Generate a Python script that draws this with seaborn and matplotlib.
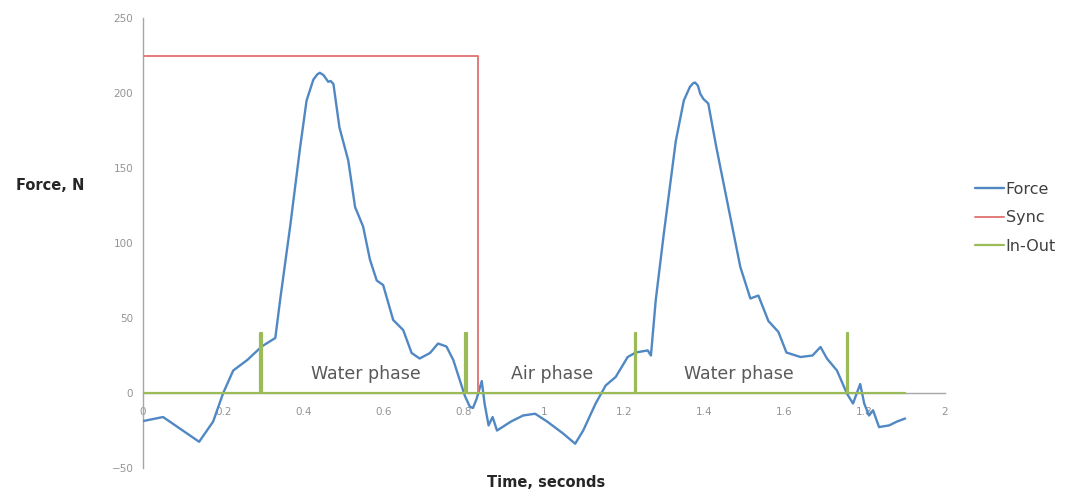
import matplotlib
matplotlib.use("Agg")
import matplotlib.pyplot as plt
import seaborn as sns
import pandas as pd

# Force signal
force_t = [0.0, 0.05, 0.11, 0.14, 0.175, 0.20, 0.225, 0.26, 0.296, 0.33, 0.342,
           0.367, 0.392, 0.408, 0.425, 0.435, 0.441, 0.450, 0.458, 0.462, 0.468,
           0.475, 0.49, 0.512, 0.529, 0.549, 0.566, 0.583, 0.599, 0.624, 0.649,
           0.67, 0.69, 0.716, 0.736, 0.757, 0.774, 0.79, 0.803, 0.815, 0.823,
           0.832, 0.845, 0.852, 0.862, 0.872, 0.883, 0.918, 0.948, 0.978, 1.008,
           1.048, 1.078, 1.098, 1.129, 1.154, 1.179, 1.209, 1.229, 1.259, 1.267,
           1.279, 1.299, 1.329, 1.349, 1.364, 1.372, 1.377, 1.384, 1.39, 1.398,
           1.41, 1.43, 1.46, 1.49, 1.515, 1.535, 1.56, 1.585, 1.605, 1.64,
           1.67, 1.69, 1.706, 1.731, 1.756, 1.771, 1.789, 1.799, 1.811, 1.821,
           1.836, 1.861, 1.881, 1.901]
force_v = [-18.7, -16, -27, -32.5, -19, 0, 15, 22, 31, 36.7, 62,
           111, 164, 195, 209, 212.5, 213.5, 212, 209, 207.5, 208,
           206, 177, 155, 124, 111, 89, 75, 72, 48.7, 42,
           26.7, 23, 26.7, 33, 31, 22, 8.7, -2, -9, -10,
           -4, 8, -7, -21.6, -16, -25, -19, -15, -13.8, -19,
           -27, -33.8, -25, -7, 5, 10.7, 24, 27, 28.4, 25,
           62, 106, 168, 195, 204, 206.5, 207, 205, 199.5, 196,
           193, 164, 124, 84, 63, 65, 48, 40.7, 27, 24,
           25, 30.7, 23, 15, -0.4, -7, 6, -7, -15, -11.5,
           -22.7, -21.6, -19, -17]

# Sync pulse
sync_t = [0.0, 0.836, 0.836, 1.90]
sync_v = [225, 225, 0, 0]

# In-Out marker spikes
inout_t = [0.0, 0.293, 0.293, 0.297, 0.297, 0.804, 0.804, 0.808, 0.808,
           1.226, 1.226, 1.230, 1.230, 1.755, 1.755, 1.759, 1.759, 1.90]
inout_v = [0, 0, 40, 40, 0, 0, 40, 40, 0,
           0, 40, 40, 0, 0, 40, 40, 0, 0]

phase_labels = ["Water phase", "Air phase", "Water phase"]
phase_x = [0.556, 1.02, 1.486]
phase_y = 12.5

x_ticks = [0, 0.2, 0.4, 0.6, 0.8, 1, 1.2, 1.4, 1.6, 1.8, 2]
x_labels = ["0", "0.2", "0.4", "0.6", "0.8", "1", "1.2", "1.4", "1.6", "1.8", "2"]
y_ticks = [-50, 0, 50, 100, 150, 200, 250]

colors = {"Force": "#5088c4", "Sync": "#e27c7a", "In-Out": "#9bbb59"}

sns.set_theme(style="white")
plt.rcParams["font.family"] = ["DejaVu Sans"]

fig = plt.figure(figsize=(10.81, 4.91), dpi=100)
ax = fig.add_axes([0.1323, 0.0468, 0.7417, 0.9165])

sns.lineplot(x=force_t, y=force_v, ax=ax, sort=False, estimator=None,
             color=colors["Force"], lw=1.7, label="Force", zorder=3)
sns.lineplot(x=sync_t, y=sync_v, ax=ax, sort=False, estimator=None,
             color=colors["Sync"], lw=1.4, label="Sync", zorder=4)
sns.lineplot(x=inout_t, y=inout_v, ax=ax, sort=False, estimator=None,
             color=colors["In-Out"], lw=1.6, label="In-Out", zorder=5)

for lab, px in zip(phase_labels, phase_x):
    ax.text(px, phase_y, lab, ha="center", va="center", fontsize=12.5,
            color="#595959", zorder=6)

ax.set_xlim(0, 2)
ax.set_ylim(-50, 250)
ax.set_xticks(x_ticks)
ax.set_xticklabels(x_labels)
ax.set_yticks(y_ticks)

for s in ["top", "right"]:
    ax.spines[s].set_visible(False)
ax.spines["bottom"].set_position(("data", 0))
ax.spines["bottom"].set_color("#a6a6a6")
ax.spines["left"].set_color("#a6a6a6")
ax.spines["bottom"].set_linewidth(1)
ax.spines["left"].set_linewidth(1)
ax.tick_params(axis="both", which="both", direction="out", length=4, width=0.8,
               colors="#a6a6a6", labelcolor="#949494", labelsize=7.5, pad=3)
ax.tick_params(axis="x", pad=6)

ax.set_xlabel("")
ax.set_ylabel("")
fig.text(0.046, 0.622, "Force, N", fontsize=10.5, fontweight="bold",
         color="#262626", ha="center", va="center")
fig.text(0.505, 0.018, "Time, seconds", fontsize=10.5, fontweight="bold",
         color="#262626", ha="center", va="center")

leg = ax.legend(loc="center left", bbox_to_anchor=(1.02, 0.556), frameon=False,
                fontsize=11.5, handlelength=1.8, handletextpad=0.1,
                labelspacing=0.85, labelcolor="#404040")

fig.savefig("out.png", dpi=100)
